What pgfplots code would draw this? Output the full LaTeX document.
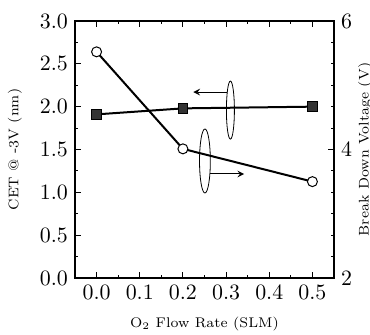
\documentclass[border=0pt]{standalone}
\usepackage{pgfplots}
\pgfplotsset{compat=1.18}
\begin{document}
\begin{tikzpicture}
\pgfplotsset{
  common/.style={
    scale only axis, width=129.5pt, height=128.5pt,
    xmin=-0.05, xmax=0.55,
    tick align=inside,
    major tick length=3pt, minor tick length=1.6pt,
    axis line style={line width=0.7pt},
    every tick/.style={line width=0.5pt, black},
    tick label style={font=\fontsize{11}{12}\selectfont},
    label style={font=\fontsize{7}{9}\selectfont},
  }
}
\begin{axis}[common, name=ax,
  ymin=0, ymax=3,
  xtick={0,0.1,0.2,0.3,0.4,0.5}, minor x tick num=1,
  ytick={0,0.5,1,1.5,2,2.5,3}, minor y tick num=1,
  xtick pos=both, ytick pos=left,
  xticklabel style={/pgf/number format/.cd, fixed, fixed zerofill, precision=1},
  yticklabel style={/pgf/number format/.cd, fixed, fixed zerofill, precision=1},
  xlabel={O$_2$ Flow Rate (SLM)},
  ylabel={CET @ -3V (nm)},
  xlabel style={at={(axis description cs:0.5,-0.18)}, anchor=center},
  ylabel style={at={(axis description cs:-0.232,0.5)}, anchor=center, rotate=0},
]
\addplot[black, line width=1pt, mark=square*, mark size=2.4pt, mark options={fill=black!80, line width=0.5pt, solid}]
  coordinates {(0,1.91) (0.2,1.98) (0.5,2.0)};
\draw[line width=0.4pt] (axis cs:0.31,1.96) ellipse [x radius=2pt, y radius=14.5pt];
\draw[line width=0.5pt, -stealth] (axis cs:0.303,2.17) -- (axis cs:0.224,2.17);
\draw[line width=0.4pt] (axis cs:0.251,1.366) ellipse [x radius=2.7pt, y radius=16pt];
\draw[line width=0.5pt, -stealth] (axis cs:0.262,1.214) -- (axis cs:0.342,1.214);
\end{axis}
\begin{axis}[common,
  ymin=2, ymax=6,
  axis x line=none, axis y line*=right,
  ytick={2,4,6}, minor y tick num=5,
  ylabel={Break Down Voltage (V)},
  ylabel style={at={(axis description cs:1.12,0.5)}, anchor=center, rotate=0},
]
\addplot[black, line width=1pt, mark=*, mark size=2.5pt, mark options={fill=white, line width=0.5pt, solid}]
  coordinates {(0,5.52) (0.2,4.01) (0.5,3.5)};
\end{axis}
\pgfresetboundingbox
\path ([xshift=-37.5pt,yshift=-28pt]ax.south west) rectangle ([xshift=18pt,yshift=10.5pt]ax.north east);
\end{tikzpicture}
\end{document}
